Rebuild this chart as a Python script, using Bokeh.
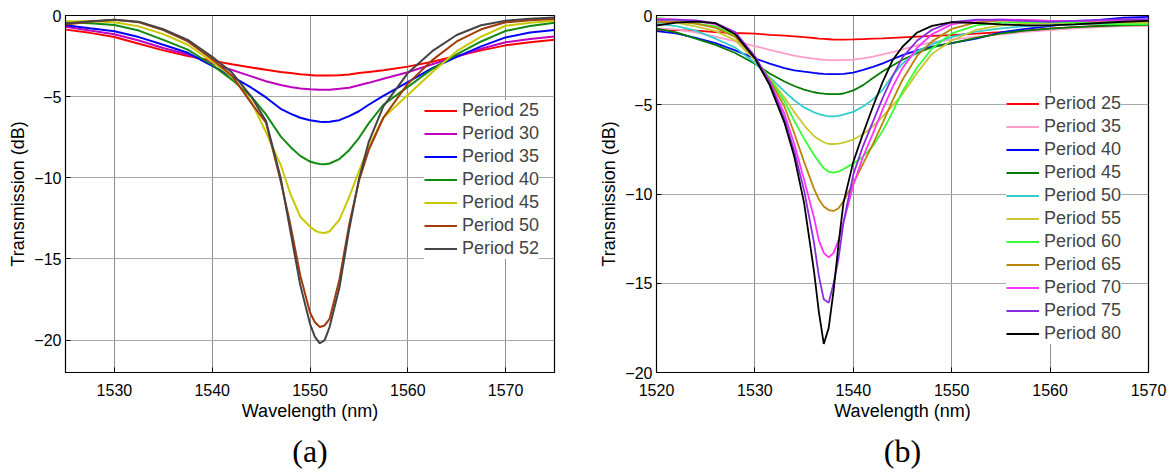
from bokeh.plotting import figure
from bokeh.models import (Legend, LegendItem, FixedTicker, Title, Range1d)
from bokeh.layouts import row
from bokeh.embed import file_html
from bokeh.resources import INLINE

# ---------------- data: panel (a) ----------------
wl_a = [1525, 1527.5, 1530, 1532.5, 1535, 1537.5, 1540, 1542, 1544, 1545.5, 1547, 1548, 1549, 1550, 1550.5,
        1551, 1551.5, 1552, 1553, 1554, 1555, 1556, 1557.5, 1560, 1562.5, 1565, 1567.5, 1570, 1572.5, 1575]
a_p25 = [-0.87, -1.07, -1.33, -1.74, -2.15, -2.5, -2.78, -3.0, -3.2, -3.35, -3.48, -3.55, -3.62, -3.67, -3.69,
         -3.7, -3.7, -3.7, -3.68, -3.63, -3.55, -3.48, -3.38, -3.15, -2.85, -2.5, -2.15, -1.84, -1.65, -1.5]
a_p30 = [-0.7, -0.93, -1.15, -1.54, -2.0, -2.4, -2.95, -3.35, -3.75, -4.05, -4.28, -4.4, -4.5, -4.55, -4.56,
         -4.57, -4.58, -4.57, -4.52, -4.45, -4.3, -4.15, -3.9, -3.5, -3.0, -2.55, -2.05, -1.65, -1.45, -1.3]
a_p35 = [-0.6, -0.79, -0.97, -1.33, -1.8, -2.3, -3.1, -3.75, -4.45, -5.05, -5.75, -6.05, -6.3, -6.45, -6.5,
         -6.55, -6.57, -6.55, -6.45, -6.2, -5.9, -5.5, -4.95, -4.1, -3.25, -2.55, -1.9, -1.35, -1.05, -0.9]
a_p40 = [-0.42, -0.48, -0.58, -0.93, -1.5, -2.1, -3.05, -3.95, -5.0, -6.1, -7.45, -8.1, -8.65, -9.0, -9.09,
         -9.15, -9.17, -9.12, -8.85, -8.3, -7.55, -6.65, -5.5, -4.4, -3.3, -2.4, -1.6, -0.95, -0.65, -0.45]
a_p45 = [-0.35, -0.36, -0.42, -0.67, -1.15, -1.8, -2.85, -3.75, -5.3, -7.2, -9.2, -11.0, -12.4, -13.0, -13.25,
         -13.38, -13.4, -13.3, -12.6, -11.2, -9.6, -8.1, -6.3, -4.9, -3.5, -2.2, -1.3, -0.63, -0.45, -0.32]
a_p50 = [-0.55, -0.38, -0.26, -0.42, -0.9, -1.6, -2.7, -3.7, -5.4, -6.6, -10.2, -12.9, -16.0, -18.3, -18.9,
         -19.2, -19.1, -18.7, -16.3, -12.9, -10.2, -8.3, -6.3, -4.2, -2.75, -1.6, -0.85, -0.42, -0.3, -0.22]
a_p52 = [-0.5, -0.36, -0.26, -0.38, -0.85, -1.5, -2.55, -3.5, -5.0, -6.5, -10.0, -13.3, -16.6, -19.0, -19.8,
         -20.2, -20.0, -19.2, -16.8, -13.2, -10.1, -7.8, -5.6, -3.55, -2.2, -1.2, -0.6, -0.32, -0.2, -0.12]
labels_a = ["Period 25", "Period 30", "Period 35", "Period 40", "Period 45", "Period 50", "Period 52"]
colors_a = ["#ff0000", "#bf00bf", "#0000ff", "#118a11", "#c8c800", "#a33a0a", "#444444"]
series_a = [a_p25, a_p30, a_p35, a_p40, a_p45, a_p50, a_p52]

# ---------------- data: panel (b) ----------------
wl_b = [1520, 1522, 1524, 1526, 1528, 1530, 1531.5, 1533, 1534, 1535, 1536, 1536.5, 1537, 1537.5, 1538,
        1538.5, 1539, 1540, 1541, 1542, 1543, 1544, 1545, 1546.5, 1548, 1550, 1552.5, 1555, 1557.5, 1560,
        1562.5, 1565, 1567.5, 1570]
b_p25 = [-0.8, -0.82, -0.85, -0.93, -0.98, -1.02, -1.08, -1.13, -1.17, -1.21, -1.26, -1.29, -1.31, -1.33, -1.35,
         -1.35, -1.35, -1.34, -1.32, -1.3, -1.28, -1.25, -1.22, -1.18, -1.14, -1.1, -1.02, -0.93, -0.83, -0.74,
         -0.65, -0.58, -0.52, -0.48]
b_p35 = [-0.72, -0.78, -0.95, -1.18, -1.45, -1.72, -1.92, -2.12, -2.25, -2.35, -2.42, -2.45, -2.48, -2.5, -2.5,
         -2.5, -2.5, -2.47, -2.4, -2.3, -2.18, -2.05, -1.9, -1.68, -1.5, -1.35, -1.18, -1.05, -0.92, -0.82,
         -0.72, -0.65, -0.6, -0.58]
b_p40 = [-0.87, -1.0, -1.25, -1.55, -1.95, -2.4, -2.7, -2.95, -3.07, -3.15, -3.22, -3.25, -3.27, -3.28, -3.28,
         -3.28, -3.27, -3.2, -3.05, -2.88, -2.68, -2.45, -2.22, -1.95, -1.75, -1.55, -1.3, -0.95, -0.75, -0.6,
         -0.4, -0.25, -0.12, -0.08]
b_p45 = [-0.74, -0.95, -1.3, -1.65, -2.1, -2.7, -3.25, -3.7, -3.95, -4.15, -4.3, -4.35, -4.38, -4.4, -4.4,
         -4.4, -4.37, -4.2, -3.9, -3.5, -3.12, -2.8, -2.48, -2.1, -1.78, -1.55, -1.25, -1.0, -0.85, -0.74,
         -0.65, -0.6, -0.55, -0.52]
b_p50 = [-0.46, -0.6, -0.85, -1.3, -1.8, -2.65, -3.45, -4.25, -4.75, -5.15, -5.42, -5.52, -5.6, -5.65, -5.65,
         -5.62, -5.55, -5.4, -5.1, -4.7, -4.15, -3.35, -2.7, -2.0, -1.6, -1.2, -0.9, -0.72, -0.6, -0.55,
         -0.5, -0.47, -0.45, -0.45]
b_p55 = [-0.28, -0.4, -0.61, -0.87, -1.39, -2.5, -3.5, -4.6, -5.4, -6.15, -6.75, -6.95, -7.1, -7.2, -7.2,
         -7.18, -7.12, -6.95, -6.65, -6.2, -5.65, -5.05, -4.4, -3.2, -2.15, -1.4, -0.8, -0.55, -0.45, -0.42,
         -0.42, -0.42, -0.42, -0.42]
b_p60 = [-0.13, -0.25, -0.45, -0.61, -1.1, -2.35, -3.55, -4.8, -5.9, -6.9, -7.8, -8.2, -8.55, -8.75, -8.8,
         -8.75, -8.6, -8.3, -7.9, -7.3, -6.45, -5.4, -4.25, -2.9, -1.85, -1.0, -0.55, -0.4, -0.38, -0.38,
         -0.4, -0.45, -0.5, -0.5]
b_p65 = [-0.37, -0.35, -0.46, -0.69, -1.2, -2.4, -3.6, -5.1, -6.6, -8.2, -9.7, -10.3, -10.7, -10.9, -10.95,
         -10.8, -10.4, -9.4, -8.3, -7.2, -6.0, -4.75, -3.6, -2.25, -1.45, -0.75, -0.38, -0.28, -0.28, -0.3,
         -0.3, -0.3, -0.3, -0.3]
b_p70 = [-0.19, -0.22, -0.3, -0.5, -0.98, -2.3, -3.7, -5.5, -7.2, -9.2, -11.3, -12.6, -13.3, -13.55, -13.3,
         -12.6, -11.6, -9.5, -7.9, -6.6, -5.25, -4.0, -2.95, -1.8, -1.05, -0.5, -0.27, -0.22, -0.25, -0.3,
         -0.3, -0.28, -0.25, -0.25]
b_p75 = [-0.24, -0.25, -0.28, -0.43, -0.93, -2.3, -3.75, -5.8, -7.6, -9.8, -12.7, -14.6, -15.9, -16.1, -15.0,
         -13.6, -11.6, -8.9, -7.3, -5.95, -4.6, -3.4, -2.35, -1.4, -0.8, -0.37, -0.23, -0.25, -0.3, -0.35,
         -0.3, -0.25, -0.2, -0.2]
b_p80 = [-0.56, -0.4, -0.34, -0.43, -1.05, -2.4, -3.9, -6.0, -7.9, -10.5, -14.3, -16.6, -18.4, -17.5, -15.4,
         -12.8, -10.5, -8.2, -6.6, -5.1, -3.7, -2.5, -1.75, -0.95, -0.58, -0.37, -0.42, -0.5, -0.55, -0.55,
         -0.5, -0.42, -0.35, -0.3]
labels_b = ["Period 25", "Period 35", "Period 40", "Period 45", "Period 50", "Period 55", "Period 60",
            "Period 65", "Period 70", "Period 75", "Period 80"]
colors_b = ["#ff0000", "#ff9ec8", "#0000ff", "#007a00", "#33cccc", "#c8c832", "#33ff33", "#b8860b",
            "#ff33ff", "#8a2be2", "#000000"]
series_b = [b_p25, b_p35, b_p40, b_p45, b_p50, b_p55, b_p60, b_p65, b_p70, b_p75, b_p80]

xticks_a = [1530, 1540, 1550, 1560, 1570]
xticks_b = [1520, 1530, 1540, 1550, 1560, 1570]
yticks = [0, -5, -10, -15, -20]

SANS = "Liberation Sans"
SERIF = "Liberation Serif"


def make_panel(wl, series, labels, colors, xr, yr, xticks, tag, width, borders, legend_loc, lw):
    p = figure(width=width, height=476, output_backend="svg", toolbar_location=None,
               x_range=Range1d(*xr), y_range=Range1d(*yr),
               min_border_left=borders[0], min_border_right=borders[1],
               min_border_top=borders[2], min_border_bottom=borders[3])
    p.outline_line_color = "black"
    p.outline_line_width = 1.2
    p.background_fill_color = "white"
    p.border_fill_color = "white"
    items = []
    for ys, lab, col in zip(series, labels, colors):
        r = p.line(wl, ys, line_color=col, line_width=lw)
        items.append(LegendItem(label=lab, renderers=[r]))
    for ax in (p.xaxis[0], p.yaxis[0]):
        ax.major_tick_in = 5
        ax.major_tick_out = 0
        ax.minor_tick_line_color = None
        ax.axis_line_color = "black"
        ax.major_tick_line_color = "black"
        ax.major_label_text_font = SANS
        ax.major_label_text_font_size = "16px"
        ax.major_label_text_color = "black"
        ax.axis_label_text_font = SANS
        ax.axis_label_text_font_size = "18px"
        ax.axis_label_text_font_style = "normal"
        ax.axis_label_text_color = "black"
    p.xaxis[0].ticker = FixedTicker(ticks=xticks)
    p.yaxis[0].ticker = FixedTicker(ticks=yticks)
    p.xaxis[0].axis_label = "Wavelength (nm)"
    p.yaxis[0].axis_label = "Transmission (dB)"
    p.xaxis[0].major_label_standoff = 11
    p.xaxis[0].axis_label_standoff = 2
    p.yaxis[0].major_label_standoff = 4
    p.yaxis[0].axis_label_standoff = 3
    p.xgrid.grid_line_color = "#8f8f8f"
    p.ygrid.grid_line_color = "#a8a8a8"
    p.xgrid.ticker = FixedTicker(ticks=xticks)
    p.ygrid.ticker = FixedTicker(ticks=yticks)
    p.xgrid.grid_line_width = 1
    p.ygrid.grid_line_width = 1
    leg = Legend(items=items, location=legend_loc, label_text_font=SANS, label_text_font_size="18px",
                 glyph_width=33, glyph_height=21, label_height=21, label_standoff=5, spacing=2,
                 padding=6, margin=0, border_line_color=None, background_fill_color="white",
                 background_fill_alpha=1.0)
    p.add_layout(leg, "center")
    t = Title(text=tag, align="center", text_font=SERIF, text_font_size="32px",
              text_font_style="normal", text_color="black", standoff=15)
    p.add_layout(t, "below")
    return p


pa = make_panel(wl_a, series_a, labels_a, colors_a, (1525, 1575), (-22, 0), xticks_a, "(a)",
                590, (65, 36, 13, 100), (359, 113), 2.0)
pb = make_panel(wl_b, series_b, labels_b, colors_b, (1520, 1570), (-20, 0), xticks_b, "(b)",
                584, (66, 26, 15, 101), (350, 28), 1.8)

layout = row(pa, pb)
open("out.html", "w").write(file_html(layout, INLINE))
